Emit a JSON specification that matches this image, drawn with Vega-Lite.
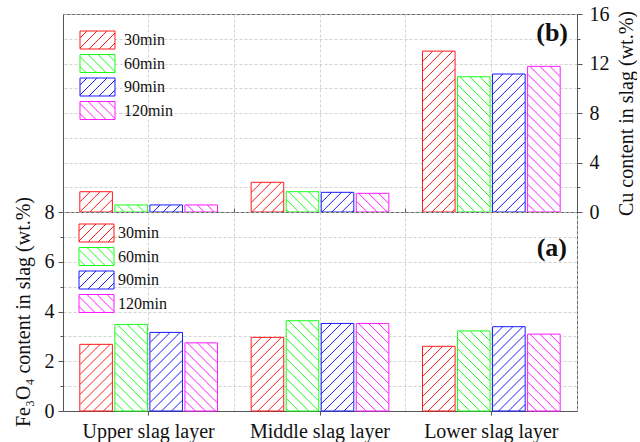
{
  "$schema": "https://vega.github.io/schema/vega-lite/v6.json",
  "padding": {"left": 12, "top": 3, "right": 0, "bottom": 0},
  "background": "white",
  "config": {
    "font": "Liberation Serif",
    "view": {"stroke": "#555", "strokeWidth": 1},
    "axis": {"domainColor": "#555", "tickColor": "#555", "labelColor": "#111", "titleColor": "#111", "labelFontSize": 20, "titleFontSize": 20, "titleFontWeight": "normal", "gridColor": "#c8c8c8", "gridDash": [3, 2], "gridWidth": 0.8, "labelFont": "Liberation Serif", "titleFont": "Liberation Serif"},
    "legend": {"title": null, "symbolSize": 4, "symbolStrokeWidth": 1, "labelFontSize": 16, "labelFont": "Liberation Serif", "labelColor": "#111", "rowPadding": 1.5, "symbolFillColor": "transparent",
      "symbolType": {"expr": "(datum.value === '60min' || datum.value === '120min') ? 'M-8,-9H27V9H-8Z M27,-2L20,-9 M27,8L10,-9 M18,9L0,-9 M8,9L-8,-7 M-2,9L-8,3' : 'M-8,-9H27V9H-8Z M-8,-2L-1,-9 M-8,8L9,-9 M1,9L19,-9 M11,9L27,-7 M21,9L27,3'"}}
  },
  "datasets": {
    "d": [
      {"layer": "Upper slag layer", "time": "30min", "cu": 1.64, "fe": 2.68},
      {"layer": "Upper slag layer", "time": "60min", "cu": 0.57, "fe": 3.48},
      {"layer": "Upper slag layer", "time": "90min", "cu": 0.57, "fe": 3.16},
      {"layer": "Upper slag layer", "time": "120min", "cu": 0.57, "fe": 2.74},
      {"layer": "Middle slag layer", "time": "30min", "cu": 2.40, "fe": 2.96},
      {"layer": "Middle slag layer", "time": "60min", "cu": 1.64, "fe": 3.63},
      {"layer": "Middle slag layer", "time": "90min", "cu": 1.59, "fe": 3.52},
      {"layer": "Middle slag layer", "time": "120min", "cu": 1.51, "fe": 3.52},
      {"layer": "Lower slag layer", "time": "30min", "cu": 13.0, "fe": 2.60},
      {"layer": "Lower slag layer", "time": "60min", "cu": 10.93, "fe": 3.22},
      {"layer": "Lower slag layer", "time": "90min", "cu": 11.15, "fe": 3.39},
      {"layer": "Lower slag layer", "time": "120min", "cu": 11.77, "fe": 3.09}
    ]
  },
  "data": {"name": "d"},
  "spacing": 0,
  "bounds": "flush",
  "resolve": {"scale": {"y": "independent", "color": "independent"}, "axis": {"y": "independent", "x": "independent"}, "legend": {"color": "independent"}},
  "vconcat": [
    {
      "width": 514,
      "height": 198,
      "title": {"text": "(b)", "orient": "top", "anchor": "end", "frame": "group", "fontSize": 26, "fontWeight": "bold", "font": "Liberation Serif", "color": "#111", "baseline": "alphabetic", "offset": -63, "dx": -9},
      "encoding": {
        "xOffset": {"field": "time", "type": "nominal", "sort": ["30min", "60min", "90min", "120min"], "scale": {"paddingInner": 0.07, "paddingOuter": 0.48}},
        "y": {"field": "cu", "type": "quantitative", "scale": {"domain": [0, 16], "nice": false},
          "axis": {"orient": "right", "values": [0, 2, 4, 6, 8, 10, 12, 14, 16], "labelExpr": "datum.value % 4 === 0 ? datum.label : ''", "tickSize": {"condition": {"test": "datum.value % 4 === 0", "value": 5}, "value": 3}, "labelPadding": 7, "labelAlign": "left", "title": "Cu content in slag (wt.%)", "titleAngle": 270, "titleBaseline": "top", "titlePadding": 7, "grid": true}},
        "color": {"field": "time", "type": "nominal", "scale": {"domain": ["30min", "60min", "90min", "120min"], "range": ["#ff1a1a", "#1aff1a", "#1a1aff", "#ff1aff"]},
          "legend": {"orient": "none", "legendX": 17, "legendY": 18, "labelOffset": 28}}
      },
      "layer": [
        {
          "mark": {"type": "bar", "filled": false, "fill": "white", "strokeWidth": 1},
          "encoding": {
            "x": {"field": "layer", "type": "nominal", "sort": ["Upper slag layer", "Middle slag layer", "Lower slag layer"], "scale": {"paddingInner": 0, "paddingOuter": 0},
              "axis": {"bandPosition": 0.5, "labels": false, "ticks": false, "domain": false, "grid": true, "title": null}}
          }
        },
        {
          "mark": {"type": "point", "filled": false, "size": 4, "strokeWidth": 1, "opacity": 1, "clip": true},
          "encoding": {
            "x": {"field": "layer", "type": "nominal", "sort": ["Upper slag layer", "Middle slag layer", "Lower slag layer"], "scale": {"paddingInner": 0, "paddingOuter": 0},
              "axis": {"bandPosition": 1, "labels": false, "ticks": false, "domain": false, "grid": true, "title": null}},
            "shape": {"condition": {"test": "datum.time === '60min' || datum.time === '120min'",
              "value": "M6,0L16,10M-4,0L16,20M-14,0L16,30M-16,8L16,40M-16,18L16,50M-16,28L16,60M-16,38L16,70M-16,48L16,80M-16,58L16,90M-16,68L16,100M-16,78L16,110M-16,88L16,120M-16,98L16,130M-16,108L16,140M-16,118L16,150M-16,128L16,160M-16,138L16,170M-16,148L16,180M-16,158L16,190M-16,168L16,200M-16,178L16,210M-16,188L16,220M-16,198L16,230"},
              "value": "M-6,0L-16,10M4,0L-16,20M14,0L-16,30M16,8L-16,40M16,18L-16,50M16,28L-16,60M16,38L-16,70M16,48L-16,80M16,58L-16,90M16,68L-16,100M16,78L-16,110M16,88L-16,120M16,98L-16,130M16,108L-16,140M16,118L-16,150M16,128L-16,160M16,138L-16,170M16,148L-16,180M16,158L-16,190M16,168L-16,200M16,178L-16,210M16,188L-16,220M16,198L-16,230"}
          }
        }
      ],
      "resolve": {"axis": {"x": "independent"}}
    },
    {
      "width": 514,
      "height": 199,
      "title": {"text": "(a)", "orient": "top", "anchor": "end", "frame": "group", "fontSize": 26, "fontWeight": "bold", "font": "Liberation Serif", "color": "#111", "baseline": "alphabetic", "offset": -86, "dx": -10},
      "encoding": {
        "xOffset": {"field": "time", "type": "nominal", "sort": ["30min", "60min", "90min", "120min"], "scale": {"paddingInner": 0.07, "paddingOuter": 0.48}},
        "y": {"field": "fe", "type": "quantitative", "scale": {"domain": [0, 8], "nice": false},
          "axis": {"orient": "left", "values": [0, 1, 2, 3, 4, 5, 6, 7, 8], "labelExpr": "datum.value % 2 === 0 ? datum.label : ''", "tickSize": {"condition": {"test": "datum.value % 2 === 0", "value": 5}, "value": 3}, "labelPadding": 4, "title": "Fe₃O₄ content in slag (wt.%)", "titlePadding": 11, "grid": true}},
        "color": {"field": "time", "type": "nominal", "scale": {"domain": ["30min", "60min", "90min", "120min"], "range": ["#ff1a1a", "#1aff1a", "#1a1aff", "#ff1aff"]},
          "legend": {"orient": "none", "legendX": 16, "legendY": 13, "labelOffset": 23}}
      },
      "layer": [
        {
          "mark": {"type": "bar", "filled": false, "fill": "white", "strokeWidth": 1},
          "encoding": {
            "x": {"field": "layer", "type": "nominal", "sort": ["Upper slag layer", "Middle slag layer", "Lower slag layer"], "scale": {"paddingInner": 0, "paddingOuter": 0},
              "axis": {"bandPosition": 0.5, "labels": true, "labelAngle": 0, "labelPadding": 6, "ticks": true, "tickSize": 4, "domain": true, "grid": true, "title": null}}
          }
        },
        {
          "mark": {"type": "point", "filled": false, "size": 4, "strokeWidth": 1, "opacity": 1, "clip": true},
          "encoding": {
            "x": {"field": "layer", "type": "nominal", "sort": ["Upper slag layer", "Middle slag layer", "Lower slag layer"], "scale": {"paddingInner": 0, "paddingOuter": 0},
              "axis": {"bandPosition": 1, "labels": false, "ticks": true, "tickSize": 4, "domain": false, "grid": true, "title": null}},
            "shape": {"condition": {"test": "datum.time === '60min' || datum.time === '120min'",
              "value": "M6,0L16,10M-4,0L16,20M-14,0L16,30M-16,8L16,40M-16,18L16,50M-16,28L16,60M-16,38L16,70M-16,48L16,80M-16,58L16,90M-16,68L16,100M-16,78L16,110M-16,88L16,120M-16,98L16,130M-16,108L16,140M-16,118L16,150M-16,128L16,160M-16,138L16,170M-16,148L16,180M-16,158L16,190M-16,168L16,200M-16,178L16,210M-16,188L16,220M-16,198L16,230"},
              "value": "M-6,0L-16,10M4,0L-16,20M14,0L-16,30M16,8L-16,40M16,18L-16,50M16,28L-16,60M16,38L-16,70M16,48L-16,80M16,58L-16,90M16,68L-16,100M16,78L-16,110M16,88L-16,120M16,98L-16,130M16,108L-16,140M16,118L-16,150M16,128L-16,160M16,138L-16,170M16,148L-16,180M16,158L-16,190M16,168L-16,200M16,178L-16,210M16,188L-16,220M16,198L-16,230"}
          }
        }
      ],
      "resolve": {"axis": {"x": "independent"}}
    }
  ]
}
